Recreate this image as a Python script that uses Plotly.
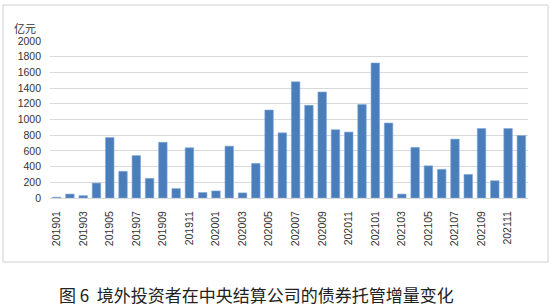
import plotly.graph_objects as go

months = [f"{y}{m:02d}" for y in (2019, 2020, 2021) for m in range(1, 13)]
values = [10, 50, 30, 190, 770, 340, 540, 250, 710, 120, 640, 70,
          90, 660, 65, 440, 1120, 830, 1480, 1180, 1350, 870, 840, 1190,
          1720, 955, 50, 645, 410, 365, 750, 300, 885, 220, 885, 795]
tick_labels = months[::2]
y_ticks = list(range(0, 2001, 200))
unit_label = "亿元"
caption = "图 6  境外投资者在中央结算公司的债券托管增量变化"

fig = go.Figure(go.Bar(
    x=months, y=values,
    marker=dict(color="#4A7EBB", line=dict(color="#7FA6D6", width=0.6)),
))

L, R, T, B = 50, 22, 41, 109
W, H = 550, 307
ph = H - T - B
pw = W - L - R

def px_x(p):
    return (p - L) / pw

def px_y(p):
    return (H - B - p) / ph

fig.update_layout(
    width=W, height=H,
    margin=dict(l=L, r=R, t=T, b=B),
    paper_bgcolor="white", plot_bgcolor="white",
    bargap=0.36,
    showlegend=False,
    font=dict(family="Liberation Sans, Arial", color="#333333"),
    xaxis=dict(
        type="category", tickmode="array", tickvals=tick_labels, ticktext=tick_labels,
        tickangle=-90, tickfont=dict(size=10.5, color="#333333"),
        showgrid=False, showline=False, ticks="", ticklabelstandoff=10,
    ),
    yaxis=dict(
        range=[0, 2000], tickmode="array", tickvals=y_ticks,
        tickfont=dict(size=10.5, color="#333333"),
        showgrid=True, gridcolor="#D9D9D9", gridwidth=1,
        zeroline=True, zerolinecolor="#D9D9D9", zerolinewidth=1,
        showline=False, ticks="", ticklabelstandoff=8,
    ),
    shapes=[dict(
        type="rect", xref="paper", yref="paper",
        x0=px_x(3), x1=px_x(548), y0=px_y(262), y1=px_y(5),
        line=dict(color="#D0D0D0", width=1), fillcolor="rgba(0,0,0,0)", layer="above",
    )],
    annotations=[
        dict(text=unit_label, xref="paper", yref="paper", x=px_x(25), y=px_y(28),
             showarrow=False, font=dict(size=11, color="#333333", family="Noto Sans CJK SC"),
             xanchor="center", yanchor="middle"),
        dict(text=caption, xref="paper", yref="paper", x=px_x(256), y=px_y(294),
             showarrow=False, font=dict(size=17, color="#222222", family="Noto Sans CJK SC"),
             xanchor="center", yanchor="middle"),
    ],
)

fig.write_html("out.html")
